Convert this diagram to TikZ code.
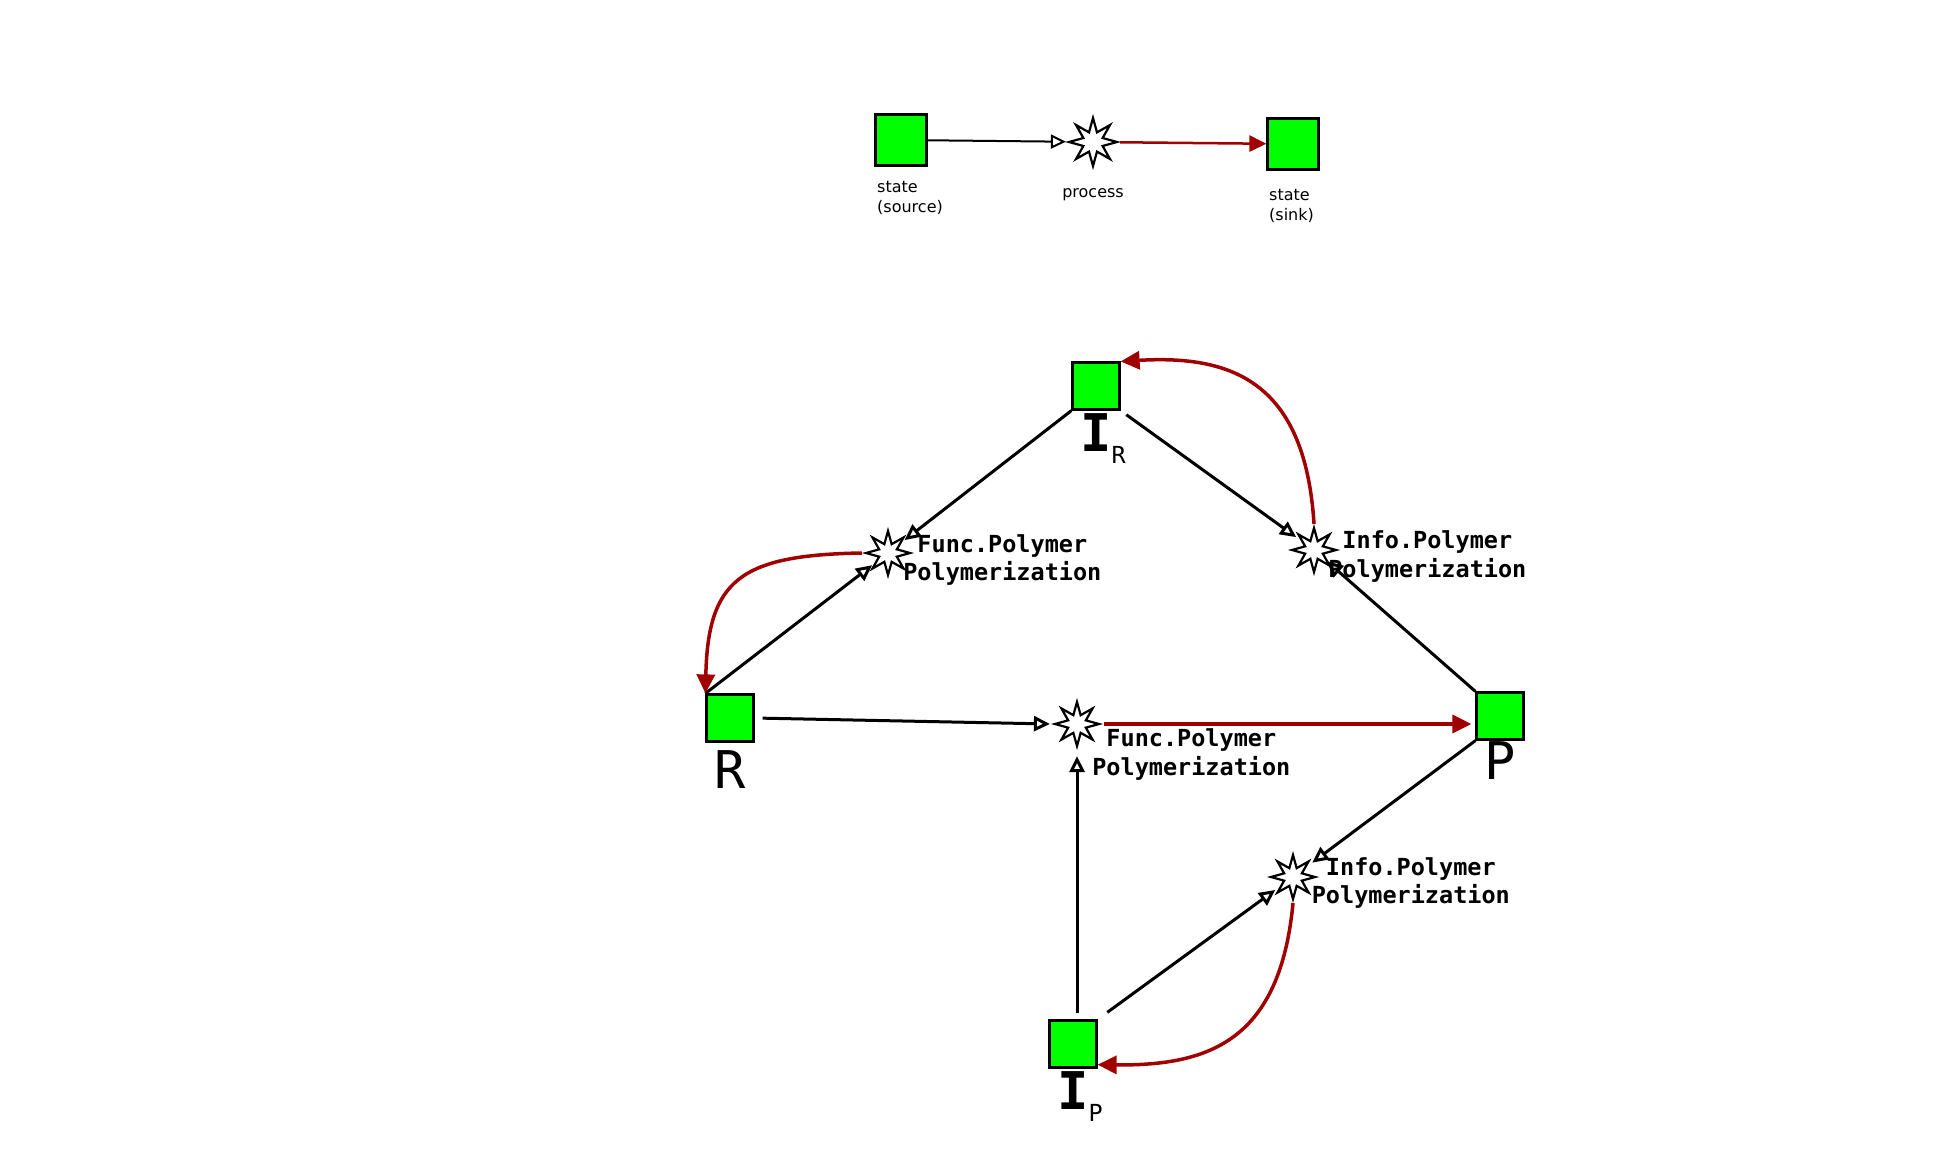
\documentclass[tikz,border=0pt]{standalone}
\usepackage{fontspec}
\setmainfont{DejaVu Sans}
\newfontfamily\monofont{DejaVu Sans Mono}
\usetikzlibrary{shapes.geometric,arrows.meta}
\definecolor{stategreen}{RGB}{0,255,0}
\definecolor{flowred}{RGB}{160,0,0}
\newcommand{\biglabel}[2]{\textbf{#1}\rlap{\raisebox{-12pt}{\fontsize{23.5}{28}\selectfont #2}}}

\begin{document}
\begin{tikzpicture}[x=1pt,y=-1pt,
	state/.style={draw=black, line width=2.2pt, fill=stategreen, minimum size=47pt, inner sep=0pt},
	proc/.style={star, star points=8, star point ratio=2.3, draw=black, line width=2.2pt, fill=white, minimum size=44pt, inner sep=0pt},
	statelbl/.style={font=\monofont\fontsize{52}{60}\selectfont, inner sep=0pt, label distance=3pt},
	proclbl/.style={font=\monofont\bfseries\fontsize{23.5}{28.5}\selectfont, align=center, inner sep=0pt},
	legendlbl/.style={font=\fontsize{16}{20}\selectfont, align=left, anchor=north west, inner sep=0pt},
	conn/.style={draw=black, line width=3pt, -{Triangle[open, length=16pt, width=15pt]}},
	flow/.style={draw=flowred, line width=3.5pt, -{Triangle[length=19pt, width=18pt]}}]
	\useasboundingbox (0,0) rectangle (1949,1170);

	% legend
	\node[state, minimum size=51pt, label={[legendlbl, xshift=-24pt, label distance=14pt]below:state\\(source)}] (src) at (901,140) {};
	\node[proc, minimum size=48pt, label={[legendlbl, anchor=north, label distance=18pt]below:process}] (lp) at (1093,142) {};
	\node[state, minimum size=51pt, label={[legendlbl, xshift=-24pt, label distance=18pt]below:state\\(sink)}] (snk) at (1293,144) {};
	\draw[conn, line width=2pt, -{Triangle[open, length=15pt, width=14pt]}] (src) -- (lp);
	\draw[flow, line width=2.5pt, -{Triangle[length=17pt, width=16pt]}] (lp) -- (snk);

	% states
	\node[state, label={[statelbl]below:\biglabel{I}{R}}] (ir) at (1096,386) {};
	\node[state, label={[statelbl, label distance=8pt]below:R}] (r) at (730,718) {};
	\node[state, label={[statelbl, label distance=1pt]below:P}] (p) at (1500,716) {};
	\node[state, label={[statelbl]below:\biglabel{I}{P}}] (ip) at (1073,1044) {};

	% processes
	\node[proc, label={[proclbl, xshift=-11pt, yshift=-7pt]right:Func.Polymer\\Polymerization}] (fpu) at (888,553) {};
	\node[proc, label={[proclbl, xshift=-11pt, yshift=-30.5pt]right:Func.Polymer\\Polymerization}] (fpc) at (1077,724) {};
	\node[proc, label={[proclbl, xshift=-12pt, yshift=-6.5pt]right:Info.Polymer\\Polymerization}] (ipu) at (1314,550) {};
	\node[proc, label={[proclbl, xshift=-7.5pt, yshift=-6pt]right:Info.Polymer\\Polymerization}] (ipl) at (1293,877) {};

	% inputs
	\draw[conn, shorten >=21pt] (ir.south west) -- (fpu.center);
	\draw[conn, shorten >=20pt] (r.north west) -- (fpu.center);
	\draw[conn, shorten <=7pt, shorten >=22pt] (ir.south east) -- (ipu.center);
	\draw[conn, shorten >=17pt] (p.north west) -- (ipu.center);
	\draw[conn, shorten <=8pt, shorten >=1pt] (r.east) -- (fpc.west);
	\draw[conn, shorten <=6pt, shorten >=6pt] (fpc |- ip.north) -- (fpc.south);
	\draw[conn, shorten >=24pt] (p.south west) -- (ipl.center);
	\draw[conn, shorten <=12pt, shorten >=22pt] (ip.north east) -- (ipl.center);

	% outputs
	\draw[flow, shorten <=1pt, shorten >=4pt] (fpc.east) -- (fpc.east -| p.west);
	\draw[flow] (fpu.west) .. controls (740,555) and (708,580) .. (r.north west);
	\draw[flow] (ipu.north) .. controls (1305,380) and (1230,355) .. (ir.north east);
	\draw[flow] (ipl.south) .. controls (1280,1040) and (1210,1066) .. (ip.-40);
\end{tikzpicture}
\end{document}
